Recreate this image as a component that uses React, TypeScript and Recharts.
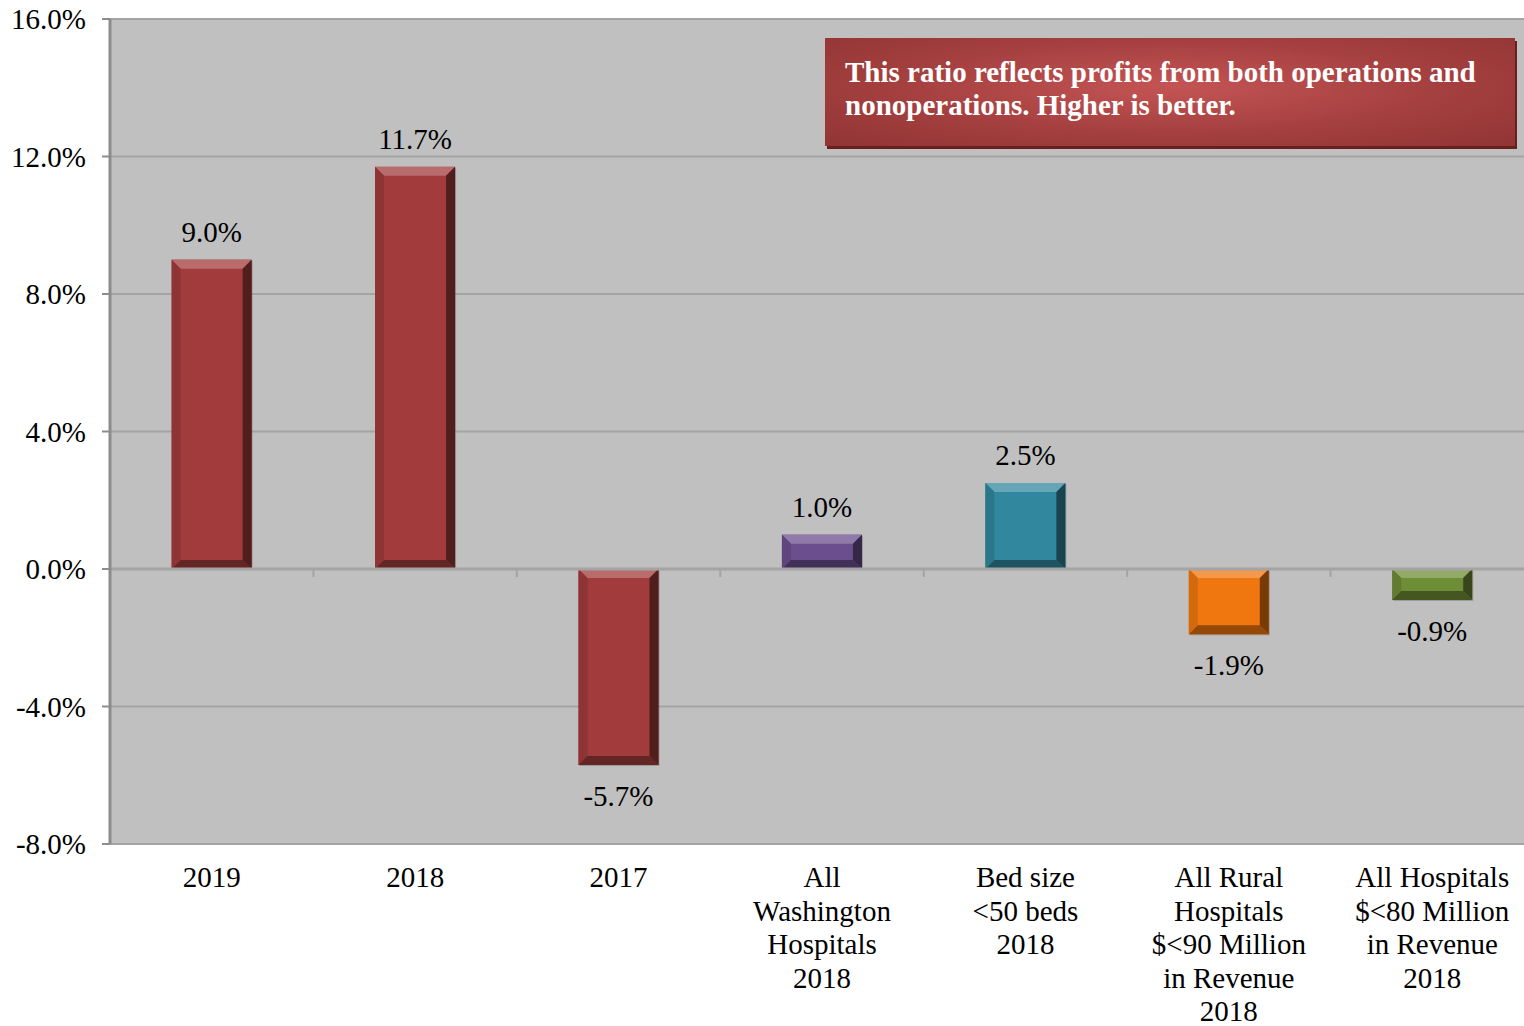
import React from 'react';
import { BarChart, Bar, XAxis, YAxis, CartesianGrid, ReferenceLine, LabelList, Cell } from 'recharts';

const categories = [
  '2019',
  '2018',
  '2017',
  'All\nWashington\nHospitals\n2018',
  'Bed size\n<50 beds\n2018',
  'All Rural\nHospitals\n$<90 Million\nin Revenue\n2018',
  'All Hospitals\n$<80 Million\nin Revenue\n2018',
];
const ratioValues = [9.0, 11.7, -5.7, 1.0, 2.5, -1.9, -0.9];
const yTicks = [-8, -4, 0, 4, 8, 12, 16];
const barColors = ['#a23b3b', '#a23b3b', '#a23b3b', '#6b4e8e', '#31879d', '#f0760f', '#6f8c36'];
const note = ['This ratio reflects profits from both operations and', 'nonoperations. Higher is better.'];

const data = categories.map((name, i) => ({ name, value: ratioValues[i], color: barColors[i] }));

const W = 1524;
const H = 1026;
const FONT = '"Liberation Serif", "Times New Roman", serif';
const FS = 29;

function shade(hex: string, amt: number) {
  const n = parseInt(hex.slice(1), 16);
  let r = (n >> 16) & 255, g = (n >> 8) & 255, b = n & 255;
  const f = (c: number) => Math.round(amt >= 0 ? c + (255 - c) * amt : c * (1 + amt));
  r = f(r); g = f(g); b = f(b);
  return `rgb(${r},${g},${b})`;
}

// bevelled bar like the excel "cool slant" style
function BevelBar(props: any) {
  const { x, width, payload } = props;
  let { y, height } = props;
  if (height < 0) { y = y + height; height = -height; }
  if (!height) return null;
  const c = payload.color;
  const b = Math.min(9, height / 3);
  const x2 = x + width, y2 = y + height;
  return (
    <g>
      <rect x={x + 1} y={y + 1} width={width} height={height} fill="rgba(0,0,0,0.2)" />
      <rect x={x} y={y} width={width} height={height} fill={c} />
      <polygon points={`${x},${y} ${x2},${y} ${x2 - b},${y + b} ${x + b},${y + b}`} fill={shade(c, 0.25)} />
      <polygon points={`${x},${y} ${x + b},${y + b} ${x + b},${y2 - b} ${x},${y2}`} fill={shade(c, -0.12)} />
      <polygon points={`${x2},${y} ${x2 - b},${y + b} ${x2 - b},${y2 - b} ${x2},${y2}`} fill={shade(c, -0.5)} />
      <polygon points={`${x},${y2} ${x2},${y2} ${x2 - b},${y2 - b} ${x + b},${y2 - b}`} fill={shade(c, -0.38)} />
    </g>
  );
}

function ValueLabel(props: any) {
  const { x, y, width, height, value } = props;
  const top = Math.min(y, y + height);
  const bottom = Math.max(y, y + height);
  const ty = value >= 0 ? top - 28 : bottom + 31;
  return (
    <text x={x + width / 2} y={ty} textAnchor="middle" dominantBaseline="central" fontFamily={FONT} fontSize={FS} fill="#000">
      {value.toFixed(1)}%
    </text>
  );
}

function CategoryTick(props: any) {
  const { x, y, payload } = props;
  const lines = String(payload.value).split('\n');
  return (
    <text x={x} y={y + 41} textAnchor="middle" fontFamily={FONT} fontSize={FS} fill="#000">
      {lines.map((l, i) => (
        <tspan key={i} x={x} dy={i === 0 ? 0 : 33.5}>{l}</tspan>
      ))}
    </text>
  );
}

function ZeroLine(props: any) {
  const { x1, x2, y1 } = props;
  const step = (x2 - x1) / categories.length;
  return (
    <g>
      <line x1={x1} x2={x2} y1={y1} y2={y1} stroke="#a4a4a4" strokeWidth={3} />
      {categories.slice(1).map((_, i) => (
        <line key={i} x1={x1 + step * (i + 1)} x2={x1 + step * (i + 1)} y1={y1} y2={y1 + 8} stroke="#a4a4a4" strokeWidth={2} />
      ))}
    </g>
  );
}

export default function App() {
  return (
    <div style={{ position: 'relative', width: W, height: H, background: '#fff', overflow: 'hidden' }}>
      <style>{'body{margin:0}'}</style>
      <BarChart width={W} height={H} data={data} margin={{ top: 19, right: -10, bottom: 0, left: 0 }} barCategoryGap="30.3%">
        <CartesianGrid vertical={false} fill="#c0c0c0" stroke="#a4a4a4" strokeWidth={2} />
        <XAxis dataKey="name" height={182} axisLine={false} tickLine={false} tickSize={0} tick={<CategoryTick />} interval={0} />
        <YAxis
          width={110}
          domain={[-8, 16]}
          ticks={yTicks}
          tickFormatter={(v: number) => `${v.toFixed(1)}%`}
          axisLine={{ stroke: '#8c8c8c', strokeWidth: 3 }}
          tickLine={{ stroke: '#8c8c8c', strokeWidth: 2 }}
          tickSize={8}
          tickMargin={16}
          tick={{ fontFamily: FONT, fontSize: FS, fill: '#000' }}
        />
        <ReferenceLine y={0} shape={<ZeroLine />} />
        <Bar dataKey="value" isAnimationActive={false} shape={<BevelBar />}>
          {data.map((d, i) => <Cell key={i} fill={d.color} />)}
          <LabelList dataKey="value" content={<ValueLabel />} />
        </Bar>
      </BarChart>
      <div
        style={{
          position: 'absolute',
          left: 825,
          top: 38,
          width: 690,
          height: 108,
          boxSizing: 'border-box',
          padding: '18px 0 0 20px',
          background: 'radial-gradient(ellipse at 50% 45%, #c45454 0%, #a23e3e 60%, #923434 100%)',
          boxShadow: '2px 3px 0 #6a1f1f',
          color: '#fff',
          fontFamily: FONT,
          fontWeight: 'bold',
          fontSize: 29,
          lineHeight: '33px',
          whiteSpace: 'nowrap',
        }}
      >
        {note.map((l, i) => <div key={i}>{l}</div>)}
      </div>
    </div>
  );
}
